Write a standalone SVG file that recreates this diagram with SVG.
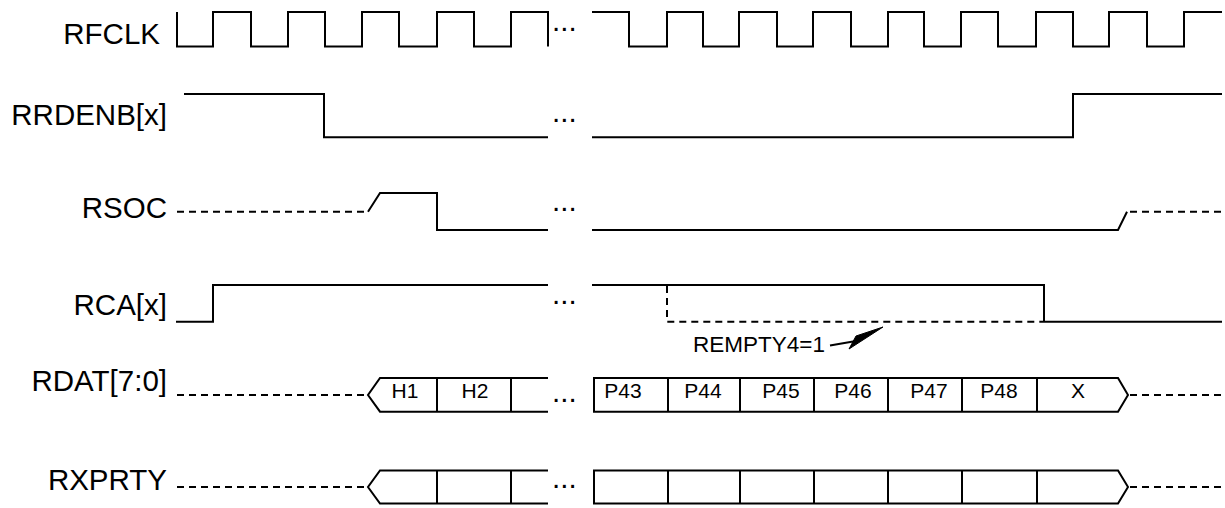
<svg xmlns="http://www.w3.org/2000/svg" width="1225" height="508" viewBox="0 0 1225 508">
<style>
  .w{fill:none;stroke:#000;stroke-width:2;stroke-linejoin:miter;stroke-linecap:butt}
  .d{fill:none;stroke:#000;stroke-width:2;stroke-dasharray:7 5}
  .lbl{font-family:"Liberation Sans",Arial,sans-serif;font-size:29.5px;fill:#000;text-anchor:end}
  .dots{font-family:"Liberation Sans",Arial,sans-serif;font-size:29.5px;fill:#000}
  .bt{font-family:"Liberation Sans",Arial,sans-serif;font-size:21px;fill:#000;text-anchor:middle}
  .note{font-family:"Liberation Sans",Arial,sans-serif;font-size:22.5px;fill:#000}
</style>
<rect width="1225" height="508" fill="#fff"/>

<g id="rfclk">
  <text class="lbl" x="160" y="44.3">RFCLK</text>
  <path class="w" d="M177,12 V46.5 H213 V12 H251 V46.5 H288 V12 H325 V46.5 H362 V12 H399 V46.5 H437 V12 H474 V46.5 H511 V12 H548 V46.5"/>
  <text class="dots" x="552" y="30.5">...</text>
  <path class="w" d="M592,12 H629 V46.5 H667 V12 H703 V46.5 H739 V12 H777 V46.5 H813 V12 H851 V46.5 H888 V12 H924 V46.5 H961 V12 H998 V46.5 H1036 V12 H1073 V46.5 H1109 V12 H1147 V46.5 H1184 V12 H1222"/>
</g>

<g id="rrdenb">
  <text class="lbl" x="167" y="125">RRDENB[x]</text>
  <path class="w" d="M184,94 H324 V137.3 H548"/>
  <text class="dots" x="552" y="121.5">...</text>
  <path class="w" d="M592,137.3 H1073 V94 H1222"/>
</g>

<g id="rsoc">
  <text class="lbl" x="167" y="218.3">RSOC</text>
  <path class="d" d="M177,211.7 H367"/>
  <path class="w" d="M368,211.7 L380,193 H437 V230 H548"/>
  <text class="dots" x="552" y="210.5">...</text>
  <path class="w" d="M592,230 H1118 L1127,211.7"/>
  <path class="d" d="M1130,211.7 H1222"/>
</g>

<g id="rca">
  <text class="lbl" x="167" y="315">RCA[x]</text>
  <path class="w" d="M176,321.7 H213 V285 H548"/>
  <text class="dots" x="552" y="303.5">...</text>
  <path class="w" d="M592,285 H1044 V321.7 H1222"/>
  <path class="d" d="M667,286 V321.7 H1043"/>
</g>

<g id="rempty4">
  <text class="note" x="693" y="351.7">REMPTY4=1</text>
  <path class="w" d="M830,345.5 L856,341"/>
  <polygon points="883,327 849,349 856,336" fill="#000" stroke="#000" stroke-width="1" stroke-linejoin="miter"/>
</g>

<g id="rdat">
  <text class="lbl" x="167" y="391">RDAT[7:0]</text>
  <path class="d" d="M177,395 H366"/>
  <path class="w" d="M548,378 H380 L368,395 L380,411.7 H548 M437,378 V411.7 M511,378 V411.7"/>
  <text class="bt" x="405" y="398.3">H1</text>
  <text class="bt" x="475" y="398.3">H2</text>
  <text class="dots" x="552" y="401.5">...</text>
  <path class="w" d="M594,378 H1118 L1128,395 L1118,411.7 H594 Z M668,378 V411.7 M740,378 V411.7 M814,378 V411.7 M888,378 V411.7 M962,378 V411.7 M1037,378 V411.7"/>
  <text class="bt" x="623" y="398.3">P43</text>
  <text class="bt" x="703" y="398.3">P44</text>
  <text class="bt" x="781" y="398.3">P45</text>
  <text class="bt" x="853" y="398.3">P46</text>
  <text class="bt" x="929" y="398.3">P47</text>
  <text class="bt" x="999" y="398.3">P48</text>
  <text class="bt" x="1078" y="398.3">X</text>
  <path class="d" d="M1130,395 H1222"/>
</g>

<g id="rxprty">
  <text class="lbl" x="167" y="490">RXPRTY</text>
  <path class="d" d="M177,487 H366"/>
  <path class="w" d="M548,470.5 H380 L368,487 L380,503.5 H548 M437,470.5 V503.5 M511,470.5 V503.5"/>
  <text class="dots" x="552" y="487.5">...</text>
  <path class="w" d="M594,470.5 H1118 L1128,487 L1118,503.5 H594 Z M668,470.5 V503.5 M740,470.5 V503.5 M814,470.5 V503.5 M888,470.5 V503.5 M962,470.5 V503.5 M1037,470.5 V503.5"/>
  <path class="d" d="M1130,487 H1222"/>
</g>
</svg>
